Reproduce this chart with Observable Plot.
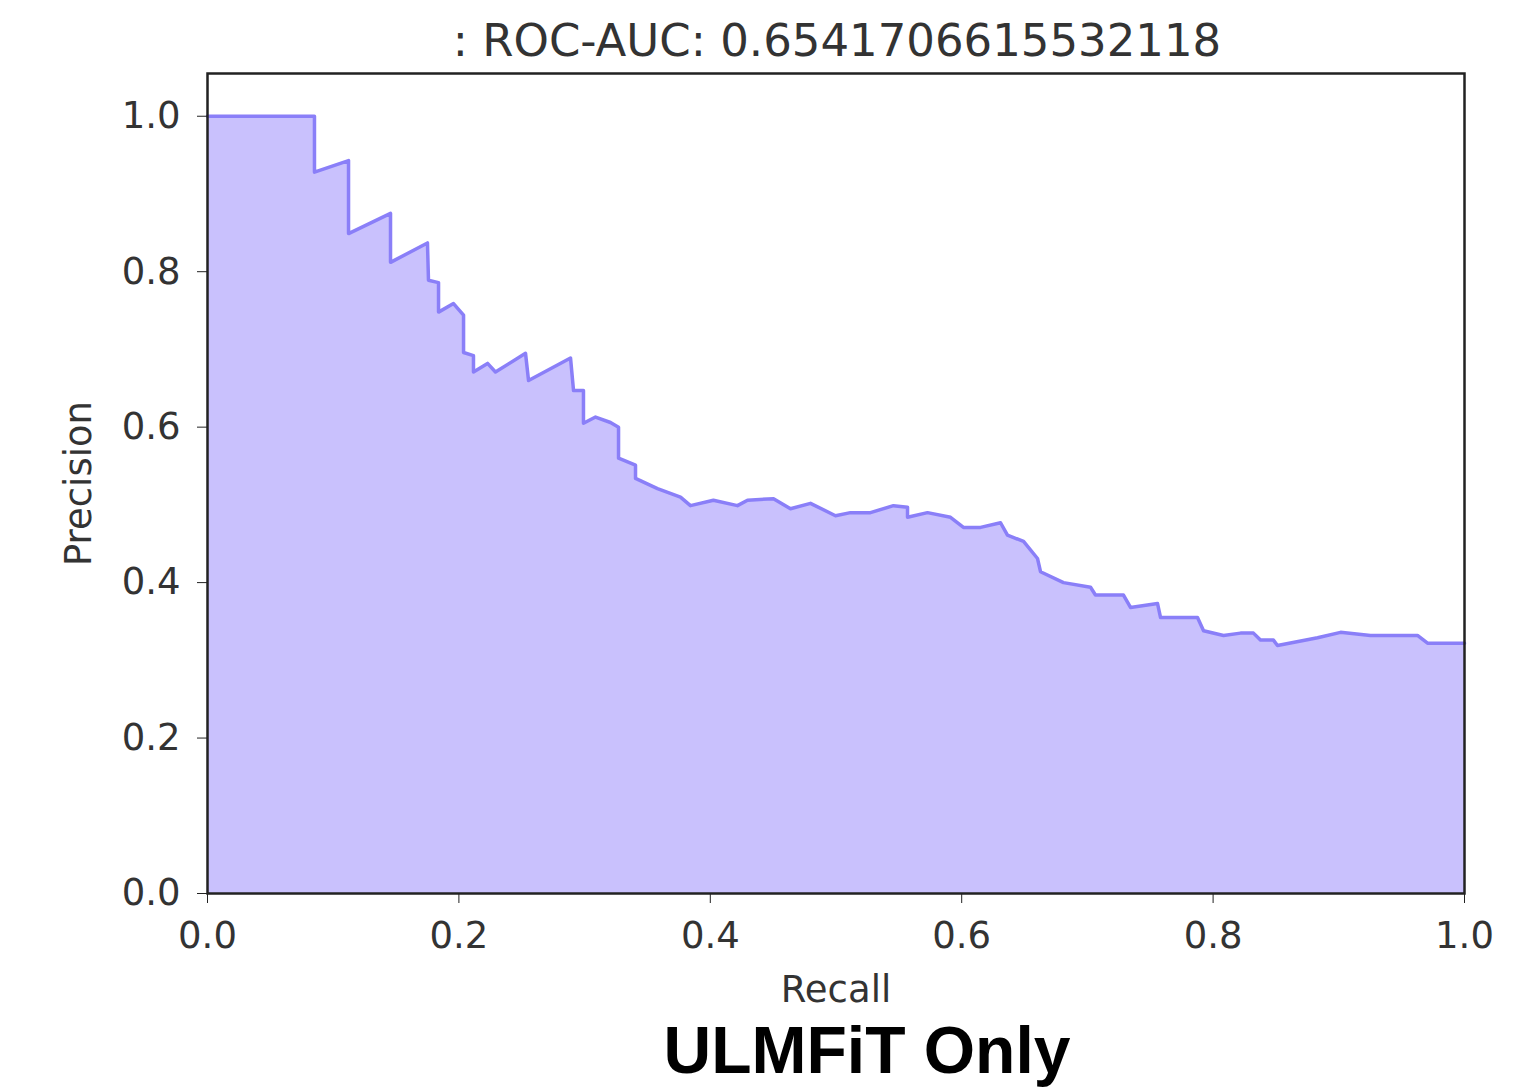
<!DOCTYPE html>
<html>
<head>
<meta charset="utf-8">
<script src="https://cdn.jsdelivr.net/npm/d3@7"></script>
<script src="https://cdn.jsdelivr.net/npm/@observablehq/plot@0.6"></script>
<style>
  html, body { margin: 0; padding: 0; background: #fff; }
  #wrap { position: relative; width: 1517px; height: 1087px; overflow: hidden; }
  #title { position: absolute; left: 0; width: 1674px; top: 14px; text-align: center;
           font-family: "DejaVu Sans", sans-serif; font-size: 45px; color: #333; white-space: nowrap; }
  #caption { position: absolute; left: 0; width: 1734px; top: 1012px; text-align: center;
             font-family: "Liberation Sans", Arial, sans-serif; font-weight: bold; font-size: 66px; color: #000; white-space: nowrap; }
  #chart { position: absolute; left: 0; top: 0; }
</style>
</head>
<body>
<div id="wrap">
  <div id="chart"></div>
  <div id="title">: ROC-AUC: 0.6541706615532118</div>
  <div id="caption">ULMFiT Only</div>
</div>
<script>
const recall = [0, 0.0851, 0.0851, 0.1122, 0.1122, 0.1456, 0.1456, 0.175, 0.1758, 0.1838, 0.1838, 0.1957, 0.2037, 0.2037, 0.2116, 0.2116, 0.2228, 0.2291, 0.253, 0.2554, 0.2888, 0.2912, 0.2991, 0.2991, 0.3087, 0.3206, 0.327, 0.327, 0.3405, 0.3405, 0.358, 0.3763, 0.3842, 0.4025, 0.4216, 0.4296, 0.4503, 0.4638, 0.4797, 0.4996, 0.5115, 0.5274, 0.5457, 0.5569, 0.5569, 0.5728, 0.5911, 0.6014, 0.615, 0.6309, 0.6364, 0.6492, 0.6603, 0.6627, 0.681, 0.7025, 0.7064, 0.7287, 0.7343, 0.7558, 0.7582, 0.7876, 0.7924, 0.8083, 0.8218, 0.8321, 0.8377, 0.848, 0.8512, 0.8831, 0.9014, 0.9252, 0.9626, 0.9706, 1.0];
const precision = [1.0, 1.0, 0.928, 0.943, 0.849, 0.875, 0.812, 0.837, 0.789, 0.786, 0.748, 0.759, 0.744, 0.696, 0.692, 0.671, 0.682, 0.671, 0.695, 0.660, 0.689, 0.647, 0.647, 0.605, 0.613, 0.606, 0.600, 0.560, 0.551, 0.534, 0.521, 0.510, 0.499, 0.506, 0.499, 0.506, 0.508, 0.495, 0.502, 0.486, 0.490, 0.490, 0.499, 0.497, 0.484, 0.490, 0.484, 0.471, 0.471, 0.477, 0.461, 0.453, 0.431, 0.414, 0.400, 0.394, 0.384, 0.384, 0.368, 0.373, 0.355, 0.355, 0.338, 0.332, 0.335, 0.335, 0.326, 0.326, 0.319, 0.329, 0.336, 0.332, 0.332, 0.322, 0.322];
const xTicks = [0, 0.2, 0.4, 0.6, 0.8, 1.0];
const yTicks = [0, 0.2, 0.4, 0.6, 0.8, 1.0];

const data = recall.map((r, i) => ({r, p: precision[i]}));
const fmt = d3.format(".1f");

const chart = Plot.plot({
  width: 1517,
  height: 1010,
  marginTop: 73,
  marginBottom: 117,
  marginLeft: 207,
  marginRight: 53,
  x: {domain: [0, 1]},
  y: {domain: [0, 1.055]},
  style: {fontFamily: "DejaVu Sans, sans-serif", color: "#333", background: "#fff"},
  marks: [
    Plot.areaY(data, {x: "r", y1: 0, y2: "p", fill: "#c9c1fd"}),
    Plot.line(data, {x: "r", y: "p", stroke: "#8a7ff8", strokeWidth: 3.5}),
    Plot.frame({stroke: "#222", strokeWidth: 2.5}),
    Plot.axisX({ticks: xTicks, tickFormat: fmt, tickSize: 10, tickPadding: 18, fontSize: 33,
                label: "Recall", labelAnchor: "center", labelOffset: 108, stroke: "#222"}),
    Plot.axisY({ticks: yTicks, tickFormat: fmt, tickSize: 10, tickPadding: 17, fontSize: 33,
                label: "Precision", labelAnchor: "center", labelOffset: 143, stroke: "#222"})
  ]
});
chart.querySelectorAll("g[aria-label$='label'] text").forEach(t => {
  t.setAttribute("font-size", 37);
  t.querySelectorAll("tspan").forEach(s => { s.textContent = s.textContent.replace(/\s*[→←↑↓]\s*/g, ""); });
  if (!t.querySelector("tspan")) t.textContent = t.textContent.replace(/\s*[→←↑↓]\s*/g, "");
});
document.getElementById("chart").appendChild(chart);
</script>
</body>
</html>
